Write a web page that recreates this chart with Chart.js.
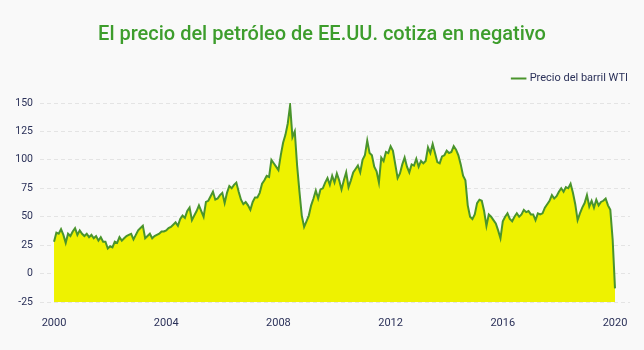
<!DOCTYPE html>
<html lang="es">
<head>
<meta charset="utf-8">
<title>Precio del barril WTI</title>
<script src="https://cdn.jsdelivr.net/npm/chart.js@4/dist/chart.umd.min.js"></script>
<style>
  html, body { margin: 0; padding: 0; background: #f9f9f9; }
  canvas { display: block; }
</style>
</head>
<body>
<canvas id="wti" width="644" height="350"></canvas>
<script>
// Serie mensual del barril WTI (USD), enero 2000 en adelante
const startYear = 2000
const tickYears = [2000, 2004, 2008, 2012, 2016, 2020]
const precioWTI = [
  28, 36, 35, 39, 34, 27, 35, 33, 37, 40,
  34, 38, 35, 33, 35, 32, 34, 31, 33, 29,
  32, 28, 28, 22, 24, 23, 28, 27, 32, 29,
  31, 33, 34, 35, 30, 34, 38, 40, 42, 31,
  33, 35, 31, 33, 34, 35, 37, 37, 38, 40,
  41, 43, 45, 42, 48, 51, 49, 55, 58, 47,
  51, 55, 60, 55, 50, 63, 64, 68, 72, 65,
  66, 69, 71, 62, 71, 77, 75, 78, 80, 72,
  65, 61, 63, 60, 56, 63, 67, 67, 71, 79,
  82, 86, 85, 100, 97, 94, 91, 104, 115, 122,
  132, 148, 120, 125, 95, 72, 51, 41, 46, 51,
  60, 66, 73, 66, 74, 75, 80, 84, 78, 86,
  80, 88, 82, 74, 82, 89, 76, 82, 89, 92,
  95, 89, 100, 104, 117, 106, 104, 94, 90, 80,
  102, 99, 107, 106, 112, 108, 96, 84, 88, 96,
  102, 94, 89, 96, 95, 101, 94, 99, 97, 99,
  111, 106, 114, 106, 98, 97, 103, 104, 108, 106,
  107, 112, 109, 104, 96, 86, 82, 60, 50, 48,
  52, 62, 65, 64, 55, 42, 52, 50, 47, 44,
  38, 31, 46, 50, 53, 48, 46, 50, 53, 50,
  52, 56, 54, 55, 52, 52, 47, 53, 52, 53,
  58, 61, 64, 69, 66, 68, 72, 75, 72, 76,
  75, 79, 71, 61, 47, 53, 58, 62, 69, 59,
  64, 58, 65, 60, 63, 64, 66, 60, 56, 30,
  -13
]

const navy = '#2b3159'
const points = precioWTI.map((v, i) => ({ x: startYear + i / 12, y: v }))

// deja más aire entre la leyenda y el área del gráfico
const legendGap = {
  id: 'legendGap',
  beforeInit(chart) {
    const fit = chart.legend.fit
    chart.legend.fit = function () {
      fit.call(this)
      this.height += 9
    }
  }
}

new Chart(document.getElementById('wti'), {
  type: 'line',
  data: {
    datasets: [{
      label: 'Precio del barril WTI',
      data: points,
      borderColor: '#4a942c',
      borderWidth: 2,
      backgroundColor: '#eef200',
      fill: 'start',
      pointRadius: 0,
      tension: 0
    }]
  },
  options: {
    responsive: false,
    animation: false,
    layout: { padding: { left: 14, right: 14, top: 0, bottom: 0 } },
    scales: {
      x: {
        type: 'linear',
        min: 1999.5,
        max: 2020.535,
        afterBuildTicks: (s) => { s.ticks = tickYears.map(v => ({ value: v })) },
        afterFit: (s) => { s.height = 48 },
        grid: { display: false },
        border: { display: false },
        ticks: {
          color: navy,
          font: { family: 'Roboto', size: 11 },
          padding: 7,
          maxRotation: 0,
          callback: (v) => String(v)
        }
      },
      y: {
        min: -25,
        max: 150,
        afterFit: (s) => { s.width = 26 },
        grid: { color: '#e4e4e4', drawTicks: false },
        border: { display: false, dash: [4, 3] },
        ticks: {
          stepSize: 25,
          color: navy,
          font: { family: 'Roboto', size: 10.5 },
          padding: 7
        }
      }
    },
    plugins: {
      title: {
        display: true,
        text: 'El precio del petróleo de EE.UU. cotiza en negativo',
        color: '#3d9d2c',
        font: { family: 'Roboto', size: 20, weight: '500' },
        padding: { top: 23, bottom: 24 }
      },
      legend: {
        align: 'end',
        labels: {
          usePointStyle: true,
          pointStyle: 'line',
          boxWidth: 15,
          color: navy,
          font: { family: 'Roboto', size: 11 },
          padding: 2
        }
      },
      tooltip: { enabled: false }
    }
  },
  plugins: [legendGap]
})
</script>
</body>
</html>
